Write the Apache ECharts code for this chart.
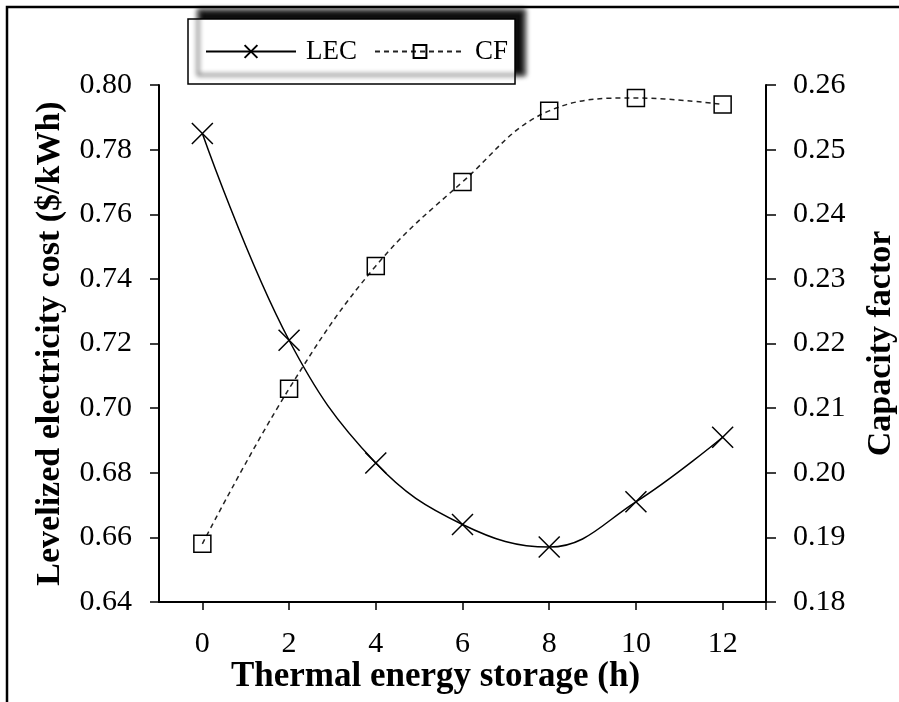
<!DOCTYPE html>
<html>
<head>
<meta charset="utf-8">
<script src="https://cdn.jsdelivr.net/npm/echarts@6/dist/echarts.min.js"></script>
<style>
  html, body { margin: 0; padding: 0; background: #fff; }
  #chart { width: 899px; height: 702px; }
</style>
</head>
<body>
<div id="chart"></div>
<script>
// Storage hours and the two results plotted against them
const hours = [0, 2, 4, 6, 8, 10, 12];
const lecValues = [0.785, 0.721, 0.683, 0.664, 0.657, 0.671, 0.691];
const cfValues = [0.189, 0.213, 0.232, 0.245, 0.256, 0.258, 0.257];
const xTickLabels = [0, 2, 4, 6, 8, 10, 12];

const FONT = "'Liberation Serif', 'Times New Roman', serif";
const INK = '#000';

const chart = echarts.init(document.getElementById('chart'), null, { renderer: 'canvas' });

const pairs = (ys) => hours.map((h, i) => [h, ys[i]]);

const crossSymbol = 'path://M0,0L10,10M10,0L0,10';

chart.setOption({
  backgroundColor: '#fff',
  animation: false,
  graphic: [{
    type: 'rect',
    z: 100,
    shape: { x: 7, y: 7, width: 1000, height: 1000 },
    style: { fill: 'none', stroke: INK, lineWidth: 2.5 }
  }],
  legend: {
    left: 188,
    top: 19,
    padding: [19, 7, 19, 17],
    itemWidth: 90,
    itemHeight: 16,
    itemGap: 17,
    backgroundColor: '#fff',
    borderColor: INK,
    borderWidth: 1.5,
    shadowColor: 'rgba(0,0,0,0.95)',
    shadowBlur: 5,
    shadowOffsetX: 10,
    shadowOffsetY: -9,
    textStyle: { fontFamily: FONT, fontSize: 27, color: INK, padding: [0, 0, 0, 5] },
    data: ['LEC', 'CF']
  },
  grid: {
    left: 159,
    right: 133,
    top: 85,
    bottom: 100,
    containLabel: false,
    outerBoundsMode: 'none'
  },
  xAxis: {
    type: 'value',
    min: -1,
    max: 13,
    interval: 1,
    name: 'Thermal energy storage (h)',
    nameLocation: 'middle',
    nameGap: 57,
    nameMoveOverlap: false,
    nameTextStyle: { fontFamily: FONT, fontSize: 35, fontWeight: 'bold', color: INK, padding: [0, 54, 0, 0] },
    axisLine: { onZero: false, lineStyle: { color: INK, width: 2 } },
    axisTick: { inside: false, length: 8, lineStyle: { color: INK, width: 1.5 }, customValues: xTickLabels.concat([13]) },
    axisLabel: { customValues: xTickLabels, fontFamily: FONT, fontSize: 30, color: INK, margin: 27 },
    splitLine: { show: false }
  },
  yAxis: [{
    type: 'value',
    position: 'left',
    min: 0.64,
    max: 0.80,
    interval: 0.02,
    name: 'Levelized electricity cost ($/kWh)',
    nameLocation: 'middle',
    nameRotate: 90,
    nameGap: 92,
    nameTextStyle: { fontFamily: FONT, fontSize: 34, fontWeight: 'bold', color: INK },
    axisLine: { show: true, onZero: false, lineStyle: { color: INK, width: 2 } },
    axisTick: { show: true, length: 9, lineStyle: { color: INK, width: 1.5 } },
    axisLabel: { fontFamily: FONT, fontSize: 30, color: INK, margin: 27, formatter: v => v.toFixed(2) },
    splitLine: { show: false }
  }, {
    type: 'value',
    position: 'right',
    min: 0.18,
    max: 0.26,
    interval: 0.01,
    name: 'Capacity factor',
    nameLocation: 'middle',
    nameRotate: 90,
    nameGap: 98,
    nameTextStyle: { fontFamily: FONT, fontSize: 34, fontWeight: 'bold', color: INK },
    axisLine: { show: true, onZero: false, lineStyle: { color: INK, width: 2 } },
    axisTick: { show: true, length: 10, lineStyle: { color: INK, width: 1.5 } },
    axisLabel: { fontFamily: FONT, fontSize: 30, color: INK, margin: 27, formatter: v => v.toFixed(2) },
    splitLine: { show: false }
  }],
  series: [{
    name: 'LEC',
    type: 'line',
    yAxisIndex: 0,
    data: pairs(lecValues),
    smooth: 0.4,
    symbol: crossSymbol,
    symbolSize: 21,
    showAllSymbol: true,
    lineStyle: { color: INK, width: 1.5, type: 'solid' },
    itemStyle: { color: INK, borderColor: INK, borderWidth: 1.5 },
    z: 3
  }, {
    name: 'CF',
    type: 'line',
    yAxisIndex: 1,
    data: pairs(cfValues),
    smooth: 0.4,
    symbol: 'rect',
    symbolSize: 17,
    showAllSymbol: true,
    lineStyle: { color: '#222', width: 1.5, type: [5, 4] },
    itemStyle: { color: 'rgba(255,255,255,0)', borderColor: INK, borderWidth: 1.5 },
    z: 2
  }]
});
</script>
</body>
</html>
